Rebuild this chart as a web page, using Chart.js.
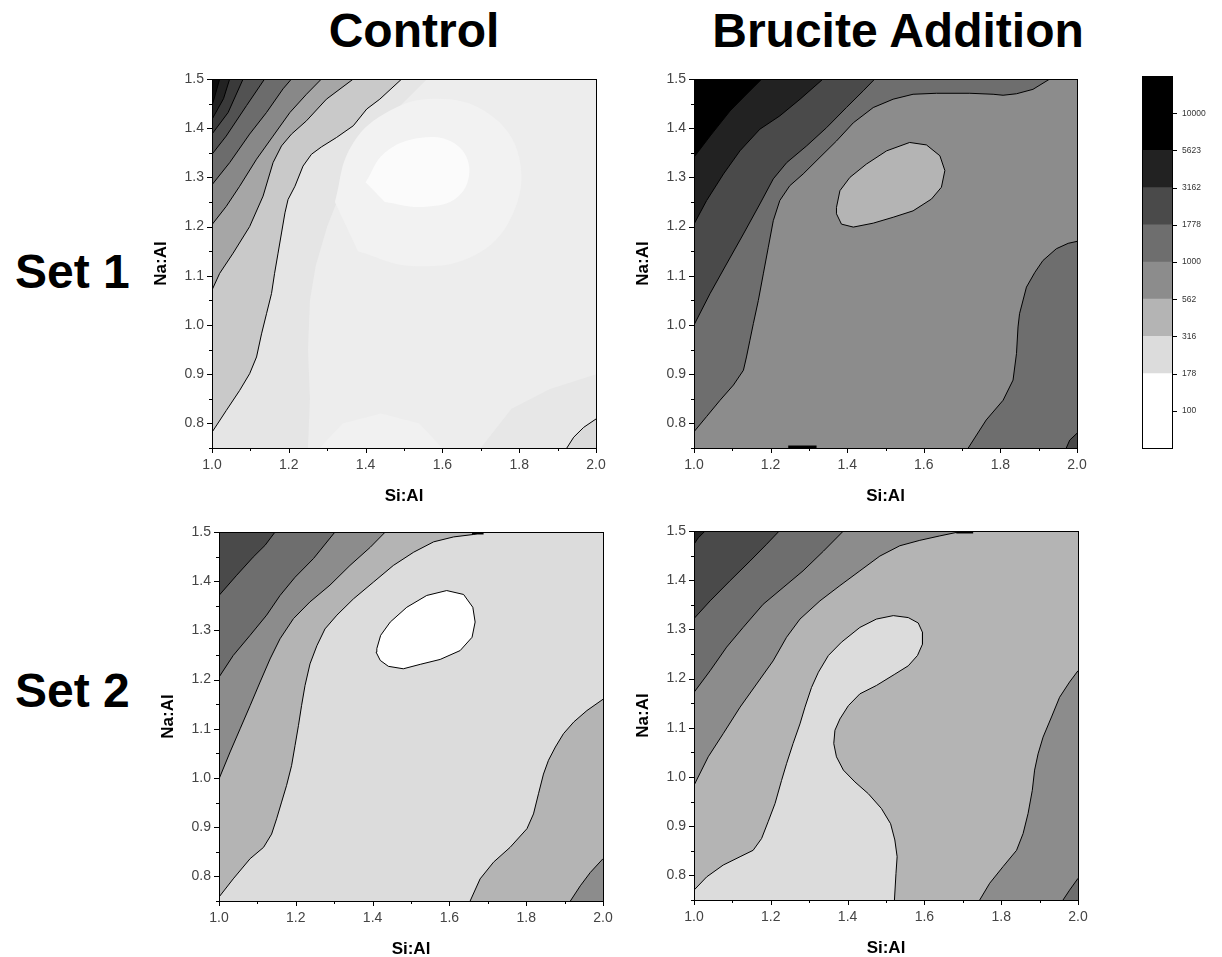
<!DOCTYPE html>
<html>
<head>
<meta charset="utf-8">
<script src="https://cdn.jsdelivr.net/npm/chart.js@4.4.1/dist/chart.umd.min.js"></script>
<style>
  body { margin: 0; background: #fff; width: 1222px; height: 957px; position: relative; overflow: hidden; font-family: "Liberation Sans", Arial, sans-serif; }
  canvas { position: absolute; }
  .head { position: absolute; font-weight: bold; font-size: 48px; line-height: 48px; color: #000; white-space: nowrap; }
  .col { width: 600px; text-align: center; }
</style>
</head>
<body>
<div class="head col" style="left:114px;top:7px">Control</div>
<div class="head col" style="left:598px;top:7px">Brucite Addition</div>
<div class="head" style="left:15px;top:248px">Set 1</div>
<div class="head" style="left:15px;top:667px">Set 2</div>
<script>
// axis ranges (Si:Al across, Na:Al up)
const siRange = [1.0, 2.0];
const naRange = [0.75, 1.5];

// colour scale: log10 band edges, labelled levels, band greys
const bandEdges = [1.75, 2.25, 2.5, 2.75, 3.0, 3.25, 3.5, 3.75, 4.25];
const levelTicks = [100, 178, 316, 562, 1000, 1778, 3162, 5623, 10000];
const bandGrays = ['#ffffff', '#dcdcdc', '#b4b4b4', '#8c8c8c', '#6e6e6e', '#4a4a4a', '#222222', '#000000'];

// ---- Control, set 1 (smooth shading with contour lines) ----
const c1LineA = [[1.0,0.782],[1.037,0.826],[1.072,0.867],[1.098,0.901],[1.116,0.935],[1.129,0.982],[1.142,1.023],[1.155,1.064],[1.163,1.105],[1.172,1.146],[1.181,1.187],[1.19,1.228],[1.198,1.255],[1.216,1.282],[1.237,1.323],[1.259,1.347],[1.285,1.362],[1.324,1.381],[1.368,1.405],[1.403,1.439],[1.437,1.459],[1.494,1.5]];
const c1Line2 = [[1.0,1.071],[1.02,1.105],[1.055,1.146],[1.098,1.2],[1.133,1.262],[1.159,1.33],[1.181,1.364],[1.207,1.388],[1.246,1.415],[1.298,1.459],[1.368,1.5]];
const c1Line3 = [[1.0,1.204],[1.037,1.241],[1.072,1.282],[1.116,1.337],[1.159,1.384],[1.203,1.432],[1.246,1.469],[1.285,1.5]];
const c1Line4 = [[1.0,1.285],[1.046,1.33],[1.098,1.388],[1.142,1.432],[1.185,1.48],[1.207,1.5]];
const c1Line5 = [[1.0,1.347],[1.037,1.384],[1.09,1.446],[1.137,1.5]];
const c1Line6 = [[1.0,1.388],[1.042,1.432],[1.081,1.5]];
const c1Line7 = [[1.0,1.418],[1.03,1.46],[1.046,1.5]];
const c1Line8 = [[1.0,1.445],[1.02,1.5]];
const c1Corner = [[1.924,0.75],[1.942,0.772],[1.968,0.792],[2.0,0.809]];
// unlined shading steps inside the light area
const c1Fade = [[1.25,0.75],[1.255,0.85],[1.25,0.95],[1.255,1.05],[1.27,1.12],[1.3,1.2],[1.34,1.28],[1.4,1.36],[1.47,1.43],[1.56,1.5]];
const c1Halo = [[1.32,1.25],[1.36,1.36],[1.45,1.43],[1.58,1.46],[1.72,1.43],[1.8,1.34],[1.78,1.22],[1.68,1.14],[1.52,1.12],[1.38,1.15]];
const c1Glow = [[1.4,1.29],[1.45,1.35],[1.54,1.38],[1.63,1.37],[1.67,1.32],[1.64,1.26],[1.55,1.24],[1.45,1.25]];
const c1Low = [[1.28,0.75],[1.34,0.8],[1.44,0.82],[1.54,0.8],[1.6,0.75]];
const c1Edge = [[1.7,0.75],[1.78,0.83],[1.88,0.87],[2.0,0.9]];
const c1Shades = ['#ededed', '#e5e5e5', '#f2f2f2', '#fbfbfb', '#f1f1f1', '#e7e7e7',
  '#c9c9c9', '#a6a6a6', '#888888', '#6c6c6c', '#525252', '#3a3a3a', '#222222', '#0c0c0c', '#dadada'];

// ---- Brucite addition, set 1 ----
const b1Line1 = [[1.0,0.783],[1.033,0.814],[1.068,0.847],[1.103,0.878],[1.129,0.908],[1.137,0.935],[1.146,0.969],[1.155,1.003],[1.168,1.05],[1.181,1.104],[1.194,1.158],[1.207,1.212],[1.224,1.253],[1.25,1.283],[1.285,1.307],[1.329,1.341],[1.372,1.374],[1.416,1.411],[1.468,1.442],[1.52,1.459],[1.572,1.469],[1.633,1.471],[1.72,1.471],[1.781,1.469],[1.807,1.467],[1.842,1.47],[1.885,1.479],[1.929,1.5]];
const b1Line2 = [[1.0,1.0],[1.042,1.064],[1.085,1.124],[1.129,1.185],[1.172,1.246],[1.207,1.297],[1.242,1.33],[1.294,1.364],[1.346,1.401],[1.398,1.442],[1.442,1.476],[1.472,1.5]];
const b1Line3 = [[1.0,1.205],[1.033,1.253],[1.077,1.307],[1.12,1.354],[1.172,1.398],[1.224,1.425],[1.277,1.459],[1.337,1.5]];
const b1Line4 = [[1.0,1.341],[1.042,1.384],[1.094,1.435],[1.137,1.469],[1.177,1.5]];
const b1Loop = [[1.372,1.239],[1.381,1.273],[1.407,1.3],[1.45,1.327],[1.503,1.354],[1.563,1.371],[1.607,1.366],[1.642,1.344],[1.655,1.314],[1.646,1.28],[1.62,1.256],[1.572,1.232],[1.52,1.219],[1.468,1.207],[1.416,1.199],[1.385,1.205],[1.372,1.226]];
const b1Right = [[1.716,0.75],[1.763,0.807],[1.807,0.847],[1.833,0.888],[1.842,0.942],[1.846,0.996],[1.85,1.023],[1.868,1.077],[1.89,1.107],[1.911,1.131],[1.946,1.155],[1.977,1.166],[2.0,1.17]];
const b1Corner = [[1.972,0.75],[1.981,0.766],[2.0,0.78]];
const b1Mark = [[1.246,0.752],[1.32,0.752]];

// ---- Control, set 2 ----
const c2Line1 = [[1.0,0.758],[1.037,0.795],[1.081,0.836],[1.116,0.859],[1.137,0.886],[1.15,0.917],[1.163,0.951],[1.176,0.985],[1.189,1.025],[1.198,1.066],[1.207,1.107],[1.215,1.147],[1.224,1.188],[1.237,1.232],[1.255,1.269],[1.276,1.303],[1.307,1.331],[1.35,1.364],[1.402,1.398],[1.454,1.432],[1.507,1.459],[1.559,1.48],[1.611,1.49],[1.663,1.495],[1.689,1.5]];
const c2Line2 = [[1.0,0.998],[1.029,1.053],[1.055,1.1],[1.081,1.147],[1.107,1.195],[1.133,1.242],[1.159,1.283],[1.194,1.324],[1.237,1.358],[1.289,1.392],[1.341,1.432],[1.394,1.469],[1.433,1.5]];
const c2Line3 = [[1.0,1.205],[1.037,1.249],[1.081,1.29],[1.124,1.331],[1.159,1.371],[1.198,1.408],[1.246,1.446],[1.302,1.5]];
const c2Line4 = [[1.0,1.371],[1.046,1.412],[1.089,1.449],[1.12,1.473],[1.146,1.5]];
const c2Loop = [[1.411,1.263],[1.421,1.29],[1.446,1.317],[1.489,1.347],[1.541,1.371],[1.593,1.381],[1.637,1.373],[1.661,1.347],[1.667,1.317],[1.659,1.286],[1.628,1.259],[1.576,1.241],[1.524,1.231],[1.48,1.222],[1.441,1.227],[1.42,1.239],[1.409,1.256]];
const c2Right = [[1.654,0.75],[1.68,0.795],[1.715,0.829],[1.758,0.859],[1.802,0.897],[1.819,0.927],[1.832,0.968],[1.845,1.008],[1.858,1.036],[1.876,1.063],[1.897,1.09],[1.924,1.114],[1.958,1.137],[2.0,1.16]];
const c2Corner = [[1.915,0.75],[1.941,0.781],[1.967,0.808],[2.0,0.836]];
const c2Mark = [[1.659,1.498],[1.689,1.498]];

// ---- Brucite addition, set 2 ----
const b2Line1 = [[1.0,0.983],[1.037,1.041],[1.076,1.088],[1.12,1.142],[1.163,1.189],[1.206,1.236],[1.241,1.284],[1.276,1.321],[1.328,1.358],[1.38,1.389],[1.432,1.419],[1.484,1.449],[1.536,1.47],[1.588,1.481],[1.64,1.49],[1.683,1.497],[1.727,1.5]];
const b2Line2 = [[1.0,1.172],[1.042,1.216],[1.085,1.264],[1.128,1.304],[1.18,1.351],[1.232,1.385],[1.284,1.419],[1.337,1.459],[1.389,1.5]];
const b2Line3 = [[1.0,1.322],[1.042,1.358],[1.094,1.399],[1.146,1.439],[1.189,1.473],[1.222,1.5]];
const b2Line4 = [[1.0,1.473],[1.011,1.486],[1.029,1.5]];
const b2Blob = [[1.0,0.77],[1.033,0.797],[1.076,0.821],[1.12,0.838],[1.154,0.851],[1.176,0.875],[1.193,0.909],[1.211,0.946],[1.228,0.993],[1.241,1.027],[1.258,1.068],[1.276,1.108],[1.289,1.142],[1.306,1.182],[1.324,1.213],[1.35,1.247],[1.384,1.274],[1.432,1.304],[1.475,1.321],[1.519,1.328],[1.558,1.324],[1.584,1.313],[1.595,1.294],[1.595,1.27],[1.582,1.247],[1.558,1.226],[1.523,1.209],[1.475,1.186],[1.432,1.169],[1.402,1.145],[1.38,1.118],[1.367,1.095],[1.364,1.068],[1.371,1.041],[1.389,1.014],[1.419,0.99],[1.454,0.966],[1.488,0.936],[1.512,0.905],[1.523,0.872],[1.529,0.838],[1.526,0.804],[1.522,0.75]];
const b2Right = [[1.744,0.75],[1.77,0.784],[1.805,0.818],[1.84,0.851],[1.857,0.885],[1.87,0.926],[1.881,0.973],[1.887,1.014],[1.896,1.047],[1.909,1.081],[1.931,1.122],[1.952,1.162],[1.978,1.193],[2.0,1.216]];
const b2Corner = [[1.961,0.75],[1.978,0.77],[2.0,0.794]];
const b2Mark = [[1.683,1.498],[1.727,1.498]];

const cornerAt = {
  bl: [siRange[0], naRange[0]], tl: [siRange[0], naRange[1]],
  tr: [siRange[1], naRange[1]], br: [siRange[1], naRange[0]]
};
const whole = ['bl', 'tl', 'tr', 'br'];

// plot boxes on the page: [left, top, right, bottom]
const panels = [
  { box: [212, 79, 596, 448], regions: [
    { color: c1Shades[0], close: whole },
    { pts: c1Fade, close: ['tl', 'bl'], color: c1Shades[1], stroke: false },
    { pts: c1Halo, color: c1Shades[2], stroke: false, smooth: true },
    { pts: c1Glow, color: c1Shades[3], stroke: false, smooth: true },
    { pts: c1Low, close: ['bl'], color: c1Shades[4], stroke: false },
    { pts: c1Edge, close: ['br'], color: c1Shades[5], stroke: false },
    { pts: c1LineA, close: ['tl'], color: c1Shades[6] },
    { pts: c1Line2, close: ['tl'], color: c1Shades[7] },
    { pts: c1Line3, close: ['tl'], color: c1Shades[8] },
    { pts: c1Line4, close: ['tl'], color: c1Shades[9] },
    { pts: c1Line5, close: ['tl'], color: c1Shades[10] },
    { pts: c1Line6, close: ['tl'], color: c1Shades[11] },
    { pts: c1Line7, close: ['tl'], color: c1Shades[12] },
    { pts: c1Line8, close: ['tl'], color: c1Shades[13] },
    { pts: c1Corner, close: ['br'], color: c1Shades[14] }
  ]},
  { box: [694, 79, 1077, 448], regions: [
    { color: bandGrays[3], close: whole },
    { pts: b1Line1, close: ['tl'], color: bandGrays[4] },
    { pts: b1Line2, close: ['tl'], color: bandGrays[5] },
    { pts: b1Line3, close: ['tl'], color: bandGrays[6] },
    { pts: b1Line4, close: ['tl'], color: bandGrays[7] },
    { pts: b1Loop, loop: true, color: bandGrays[2] },
    { pts: b1Right, close: ['br'], color: bandGrays[4] },
    { pts: b1Corner, close: ['br'], color: bandGrays[5] },
    { pts: b1Mark, width: 3 }
  ]},
  { box: [219, 532, 603, 901], regions: [
    { color: bandGrays[1], close: whole },
    { pts: c2Line1, close: ['tl'], color: bandGrays[2] },
    { pts: c2Line2, close: ['tl'], color: bandGrays[3] },
    { pts: c2Line3, close: ['tl'], color: bandGrays[4] },
    { pts: c2Line4, close: ['tl'], color: bandGrays[5] },
    { pts: c2Loop, loop: true, color: bandGrays[0] },
    { pts: c2Right, close: ['br'], color: bandGrays[2] },
    { pts: c2Corner, close: ['br'], color: bandGrays[3] },
    { pts: c2Mark, width: 3 }
  ]},
  { box: [694, 531, 1078, 900], regions: [
    { color: bandGrays[2], close: whole },
    { pts: b2Line1, close: ['tl'], color: bandGrays[3] },
    { pts: b2Line2, close: ['tl'], color: bandGrays[4] },
    { pts: b2Line3, close: ['tl'], color: bandGrays[5] },
    { pts: b2Line4, close: ['tl'], color: bandGrays[6] },
    { pts: b2Blob, close: ['bl'], color: bandGrays[1] },
    { pts: b2Right, close: ['br'], color: bandGrays[3] },
    { pts: b2Corner, close: ['br'], color: bandGrays[4] },
    { pts: b2Mark, width: 3 }
  ]}
];

Chart.defaults.font.family = '"Liberation Sans", Arial, sans-serif';
Chart.defaults.color = '#444';

// box frame plus outward tick marks (short ones for unlabelled ticks)
const frameAndTicks = {
  id: 'frameAndTicks',
  afterDatasetsDraw(chart) {
    const { ctx, chartArea: a } = chart;
    ctx.save();
    ctx.strokeStyle = '#000';
    ctx.lineWidth = 1;
    ctx.beginPath();
    for (const s of Object.values(chart.scales)) {
      if (s.options.display === false) continue;
      s.ticks.forEach((t, i) => {
        const len = t.label === '' ? 3 : 5;
        const p = Math.round(s.getPixelForTick(i)) + 0.5;
        if (s.position === 'bottom') { ctx.moveTo(p, a.bottom); ctx.lineTo(p, a.bottom + len); }
        if (s.position === 'left') { ctx.moveTo(a.left, p); ctx.lineTo(a.left - len, p); }
        if (s.position === 'right') { ctx.moveTo(a.right, p); ctx.lineTo(a.right + len, p); }
      });
    }
    ctx.stroke();
    ctx.strokeRect(Math.round(a.left) + 0.5, Math.round(a.top) + 0.5,
      Math.round(a.right - a.left), Math.round(a.bottom - a.top));
    ctx.restore();
  }
};

const toXY = pts => pts.map(([x, y]) => ({ x, y }));

// fills first (painter's order), then the contour lines on top
function panelDatasets(regions) {
  const fills = [], lines = [];
  regions.forEach((r, i) => {
    const line = r.pts || [];
    if (r.color) {
      const shape = line.concat((r.close || []).map(c => cornerAt[c]));
      fills.push({ data: toXY(shape), order: -i, fill: 'shape', backgroundColor: r.color,
        borderColor: 'rgba(0,0,0,0)', borderWidth: 0, pointRadius: 0, tension: r.smooth ? 0.4 : 0 });
    }
    if (line.length && r.stroke !== false) {
      lines.push({ data: toXY(r.loop ? line.concat([line[0]]) : line), order: -1000, fill: false,
        borderColor: '#000', borderWidth: r.width || 1, pointRadius: 0 });
    }
  });
  return fills.concat(lines);
}

function addCanvas(left, top, w, h) {
  const cv = document.createElement('canvas');
  cv.width = w; cv.height = h;
  cv.style.left = left + 'px'; cv.style.top = top + 'px';
  document.body.appendChild(cv);
  return cv;
}

const tickFont = { size: 14 };
const titleFont = { size: 17, weight: 'bold' };

panels.forEach(p => {
  const [l, t, r, b] = p.box;
  const cv = addCanvas(l - 72, t - 19, r - l + 86, b - t + 91);
  new Chart(cv, {
    type: 'line',
    data: { datasets: panelDatasets(p.regions) },
    options: {
      responsive: false,
      animation: false,
      events: [],
      layout: { padding: { top: 19, right: 14, left: 0, bottom: 0 } },
      plugins: { legend: { display: false }, tooltip: { enabled: false }, filler: { drawTime: 'beforeDatasetsDraw' } },
      scales: {
        x: {
          type: 'linear', min: siRange[0], max: siRange[1],
          afterFit: s => { s.height = 72; },
          grid: { display: false, drawTicks: true, tickLength: 5 },
          border: { display: false },
          ticks: { stepSize: 0.1, autoSkip: false, maxRotation: 0, padding: 4, font: tickFont,
            callback: v => (Math.round(v * 10) % 2 === 0 ? v.toFixed(1) : '') },
          title: { display: true, text: 'Si:Al', color: '#000', font: titleFont, padding: { top: 0, bottom: 13 } }
        },
        y: {
          type: 'linear', min: naRange[0], max: naRange[1],
          afterFit: s => { s.width = 72; },
          grid: { display: false, drawTicks: true, tickLength: 5 },
          border: { display: false },
          ticks: { stepSize: 0.05, autoSkip: false, padding: 3, font: tickFont,
            callback: v => (Math.round(v * 100) % 10 === 0 ? v.toFixed(1) : '') },
          title: { display: true, text: 'Na:Al', color: '#000', font: titleFont, padding: { top: 11, bottom: 0 } }
        }
      }
    },
    plugins: [frameAndTicks]
  });
});

// colour scale bar
const barCanvas = addCanvas(1130, 60, 92, 400);
new Chart(barCanvas, {
  type: 'bar',
  data: {
    labels: [''],
    datasets: bandGrays.map((g, i) => ({
      data: [[10 ** bandEdges[i], 10 ** bandEdges[i + 1]]],
      backgroundColor: g, borderWidth: 0, grouped: false,
      barPercentage: 1, categoryPercentage: 1
    }))
  },
  options: {
    responsive: false,
    animation: false,
    events: [],
    layout: { padding: { top: 16, left: 12, bottom: 12, right: 0 } },
    plugins: { legend: { display: false }, tooltip: { enabled: false } },
    scales: {
      x: { display: false },
      y: {
        type: 'logarithmic', position: 'right',
        min: 10 ** bandEdges[0], max: 10 ** bandEdges[bandEdges.length - 1],
        afterBuildTicks: s => { s.ticks = levelTicks.map(value => ({ value })); },
        afterFit: s => { s.width = 50; },
        grid: { display: false, drawTicks: true, tickLength: 5 },
        border: { display: false },
        ticks: { padding: 5, font: { size: 8.5 }, color: '#333', callback: v => String(v) }
      }
    }
  },
  plugins: [frameAndTicks]
});
</script>
</body>
</html>
